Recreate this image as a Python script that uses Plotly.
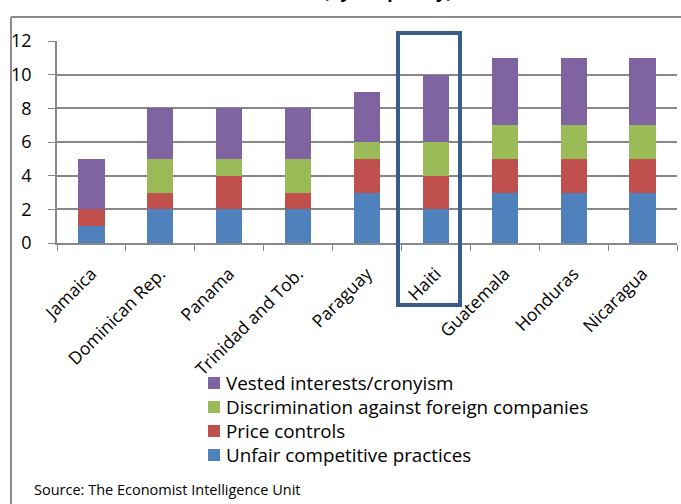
import plotly.graph_objects as go

categories = ["Jamaica", "Dominican Rep.", "Panama", "Trinidad and Tob.", "Paraguay",
              "Haiti", "Guatemala", "Honduras", "Nicaragua"]
unfair = [1, 2, 2, 2, 3, 2, 3, 3, 3]
price = [1, 1, 2, 1, 2, 2, 2, 2, 2]
discrimination = [0, 2, 1, 2, 1, 2, 2, 2, 2]
vested = [3, 3, 3, 3, 3, 4, 4, 4, 4]
y_ticks = [0, 2, 4, 6, 8, 10, 12]

series = [
    ("Unfair competitive practices", unfair, "#4F81BD"),
    ("Price controls", price, "#C0504D"),
    ("Discrimination against foreign companies", discrimination, "#9BBB59"),
    ("Vested interests/cronyism", vested, "#8064A2"),
]

FONT = "Open Sans"
fig = go.Figure()
for name, vals, col in series:
    fig.add_trace(go.Bar(x=categories, y=vals, name=name,
                         marker=dict(color=col, line=dict(width=0))))

W, H = 681, 504
L, R, T, B = 57, 4, 41, 261
pw, ph = W - L - R, H - T - B


def px(x):
    return (x - L) / pw


def py(y):
    return (H - B - y) / ph


shapes = [
    # outer frame (left and top)
    dict(type="line", xref="paper", yref="paper", x0=px(11), x1=px(11),
         y0=py(17), y1=py(510), line=dict(color="#8c8c8c", width=2)),
    dict(type="line", xref="paper", yref="paper", x0=px(11), x1=px(690),
         y0=py(17), y1=py(17), line=dict(color="#8c8c8c", width=2)),
    # highlight box around Haiti
    dict(type="rect", xref="paper", yref="paper", x0=px(398), x1=px(460),
         y0=py(305), y1=py(33), line=dict(color="#385D8A", width=4),
         fillcolor="rgba(0,0,0,0)"),
]
annotations = [
    dict(text="<b>(by frequency)</b>", xref="paper", yref="paper",
         x=px(388), y=py(5), xanchor="center", yanchor="bottom",
         showarrow=False, font=dict(size=18, family=FONT)),
    dict(text="Source: The Economist Intelligence Unit", xref="paper", yref="paper",
         x=px(32), y=py(489), xanchor="left", yanchor="middle",
         showarrow=False, font=dict(size=14.5, family=FONT)),
]

# legend drawn as swatches + labels (top entry = last series)
leg_top, leg_step = 383, 24
for i, (name, vals, col) in enumerate(reversed(series)):
    yc = leg_top + i * leg_step
    shapes.append(dict(type="rect", xref="paper", yref="paper",
                       x0=px(208), x1=px(220), y0=py(yc + 6), y1=py(yc - 6),
                       fillcolor=col, line=dict(width=0)))
    annotations.append(dict(text=name, xref="paper", yref="paper",
                            x=px(224), y=py(yc), xanchor="left", yanchor="middle",
                            showarrow=False, font=dict(size=18.8, family=FONT)))

fig.update_layout(
    width=W, height=H,
    margin=dict(l=L, r=R, t=T, b=B, autoexpand=False),
    barmode="stack", bargap=0.62,
    plot_bgcolor="white", paper_bgcolor="white",
    font=dict(family=FONT, size=17, color="black"),
    showlegend=False,
    xaxis=dict(tickangle=-45, tickson="boundaries", ticks="outside", ticklen=6,
               tickcolor="#888888", showline=True, linecolor="#888888", linewidth=1.5,
               showgrid=False, tickfont=dict(size=17.5, family=FONT),
               automargin=False, ticklabelstandoff=12),
    yaxis=dict(range=[0, 12], tickvals=y_ticks, ticks="outside", ticklen=7,
               tickcolor="#888888", showline=True, linecolor="#888888", linewidth=1.5,
               gridcolor="#888888", gridwidth=1.5, zeroline=False,
               tickfont=dict(size=18, family=FONT), automargin=False,
               ticklabelstandoff=13),
    shapes=shapes,
    annotations=annotations,
)

fig.write_html("out.html", config={"displayModeBar": False},
               post_script="document.body.style.margin='0';document.body.style.overflow='hidden';")
